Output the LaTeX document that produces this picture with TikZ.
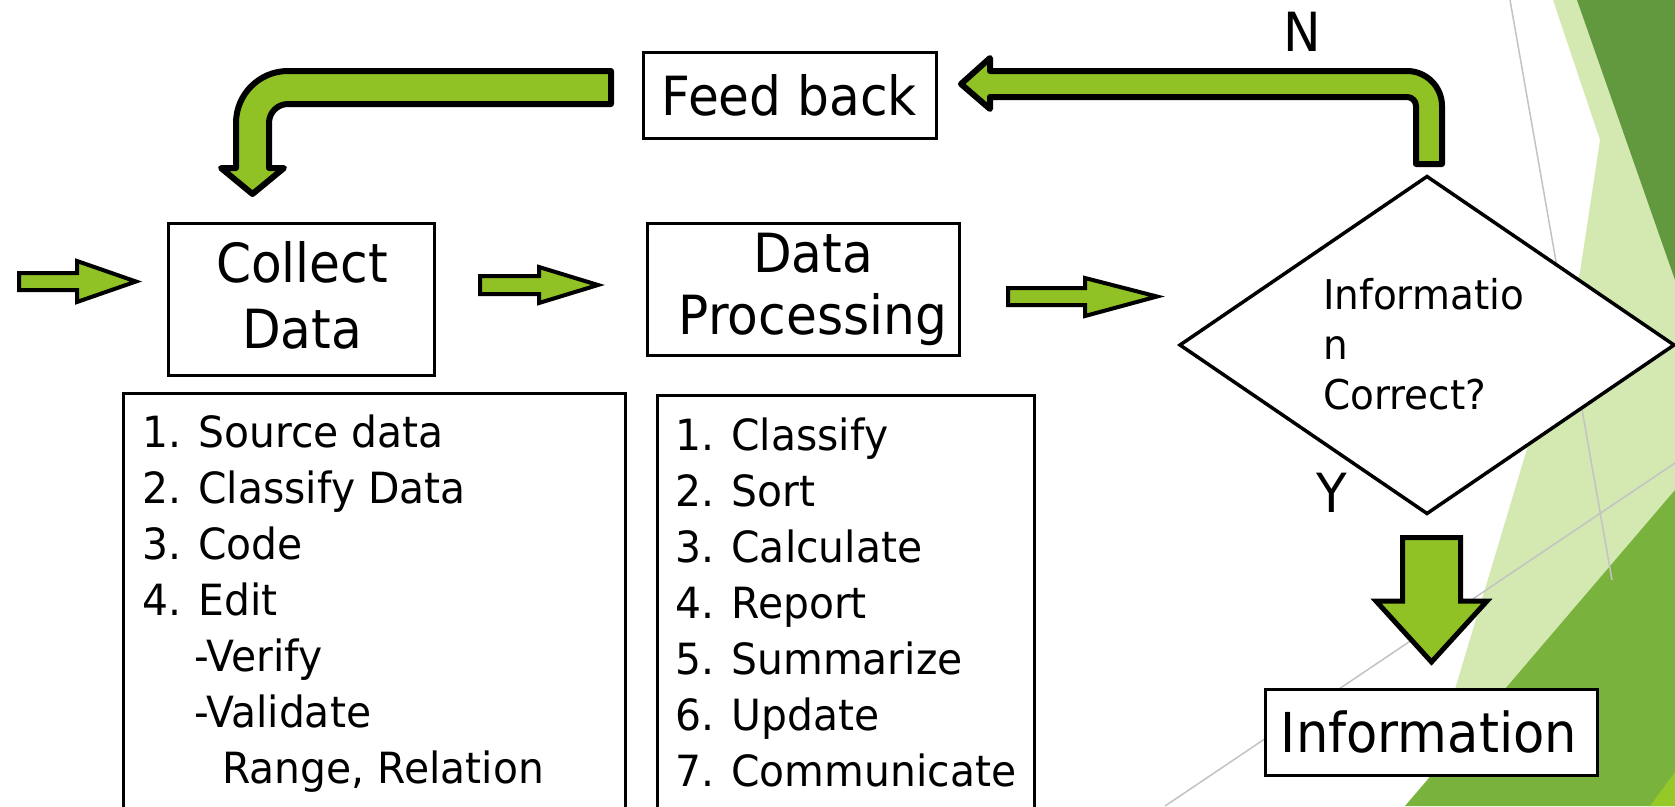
\documentclass[tikz,border=0pt]{standalone}
\usepackage{fontspec}
\newfontfamily\bigf[FakeStretch=0.93]{DejaVu Sans}
\newfontfamily\listf[FakeStretch=0.95]{DejaVu Sans}
\usetikzlibrary{shapes.geometric}
\definecolor{arrowgreen}{RGB}{145,194,37}
\definecolor{facetlight}{RGB}{212,232,178}
\definecolor{facetdark}{RGB}{98,152,62}
\definecolor{facetmid}{RGB}{122,178,62}
\definecolor{facetbright}{RGB}{150,200,40}
\definecolor{thingray}{RGB}{195,195,195}
\begin{document}
\begin{tikzpicture}[x=1pt,y=-1pt,
  box/.style={draw=black, fill=white, line width=3pt, inner sep=0pt, outer sep=0pt, anchor=north west},
  flatarrow/.style={draw=black, fill=arrowgreen, line width=4pt, line join=miter},
  bentarrow/.style={draw=black, fill=arrowgreen, line width=6pt, line join=round},
  bigtext/.style={font=\bigf\fontsize{54}{66}\selectfont, inner sep=0pt, align=center},
  listtext/.style={font=\listf\fontsize{43}{56}\selectfont, inner sep=0pt, align=left, anchor=north west},
  facetline/.style={draw=thingray, line width=1.5pt}
]
\useasboundingbox (0,0) rectangle (1675,806);
\fill[white] (0,0) rectangle (1675,806);

% background facets
\fill[facetlight] (1553,0) -- (1675,0) -- (1675,806) -- (1420,806) -- (1580,272) -- (1600,140) -- cycle;
\fill[facetdark] (1577,0) -- (1675,0) -- (1675,280) -- cycle;
\fill[facetmid] (1405,806) -- (1675,490) -- (1675,806) -- cycle;
\fill[facetbright] (1650,806) -- (1675,772) -- (1675,806) -- cycle;
\coordinate (g1a) at (1510,0);
\coordinate (g1b) at (1612,580);
\coordinate (g2a) at (1165,806);
\coordinate (g2b) at (1675,463);
\draw[facetline] (g1a) -- (g1b);
\draw[facetline] (g2a) -- (g2b);

% boxes
\node[box, minimum width=293, minimum height=86] (fb) at (643,52) {};
\node[bigtext, anchor=base] (fbt) at (789.5,115) {Feed back};

\node[box, minimum width=266, minimum height=152] (cd) at (168,223) {};
\node[bigtext, anchor=north] (cdt) at (302,241) {Collect\\Data};

\node[box, minimum width=312, minimum height=132] (dp) at (647,223) {};
\node[bigtext, anchor=north, font=\bigf\fontsize{54}{62}\selectfont] (dpt) at (813,232.6) {Data\\Processing};

\node[box, minimum width=502, minimum height=440] (la) at (123,393) {};
\node[listtext] (lat) at (142,414.3) {1. Source data\\2. Classify Data\\3. Code\\4. Edit\\\phantom{1.\ }-Verify\\\phantom{1.\ }-Validate\\\phantom{1.\ }\hspace{28pt}Range, Relation};

\node[box, minimum width=377, minimum height=440] (lb) at (657,395) {};
\node[listtext] (lbt) at (675,417.3) {1. Classify\\2. Sort\\3. Calculate\\4. Report\\5. Summarize\\6. Update\\7. Communicate};

\node[diamond, draw=black, fill=white, line width=3.5pt, minimum width=494, minimum height=337, inner sep=0pt, outer sep=0pt] (dec) at (1427,345) {};
\node[listtext, font=\listf\fontsize{41}{50}\selectfont] (dect) at (1323,278) {Informatio\\n\\Correct?};

\node[box, minimum width=332, minimum height=86] (info) at (1265,689) {};
\node[bigtext, anchor=base, font=\bigf\fontsize{55}{66}\selectfont] (infot) at (1429,752) {Information};

\node[anchor=base west, inner sep=0pt, font=\bigf\fontsize{54}{54}\selectfont] (ylab) at (1316,512) {Y};
\node[anchor=base west, inner sep=0pt, font=\bigf\fontsize{54}{54}\selectfont] (nlab) at (1283,51) {N};

% straight block arrows
\draw[flatarrow] (19,273) -- (77,273) -- (77,261) -- (136,281.5) -- (77,302) -- (77,290) -- (19,290) -- cycle;
\draw[flatarrow] (480,276) -- (539,276) -- (539,267) -- (598,285) -- (539,303) -- (539,294) -- (480,294) -- cycle;
\draw[flatarrow] (1008,288) -- (1085,288) -- (1085,278) -- (1157,296.5) -- (1085,316) -- (1085,305) -- (1008,305) -- cycle;

% down arrow (Y)
\draw[flatarrow, line width=5pt] (1402.5,537.5) -- (1460.5,537.5) -- (1460.5,601) -- (1487,601) -- (1431.5,662) -- (1376,601) -- (1402.5,601) -- cycle;

% bent arrow: Feed back -> Collect Data
\draw[bentarrow] (611,71) -- (288,71) .. controls (259.3,71) and (236,94.3) .. (236,123)
  -- (236,168) -- (221,168) -- (252.5,194) -- (284,168) -- (269,168) -- (269,123)
  .. controls (269,112.5) and (277.5,104) .. (288,104) -- (611,104) -- cycle;

% bent arrow: decision -> Feed back (N)
\draw[bentarrow] (990,71) -- (1407,71) .. controls (1426.3,71) and (1442,86.7) .. (1442,106)
  -- (1442,164) -- (1416,164) -- (1416,106) .. controls (1416,101) and (1412,97) .. (1407,97)
  -- (990,97) -- (990,109) -- (961,84) -- (990,58) -- cycle;
\end{tikzpicture}
\end{document}
